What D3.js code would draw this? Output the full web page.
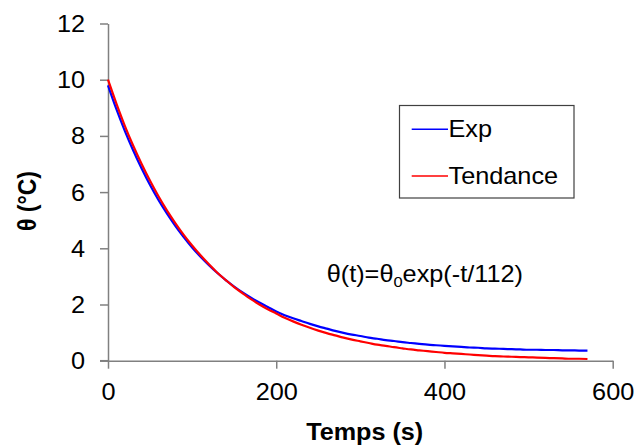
<!DOCTYPE html>
<html>
<head>
<meta charset="utf-8">
<script src="https://cdn.jsdelivr.net/npm/d3@7"></script>
<style>
  html, body { margin: 0; padding: 0; background: #fff; }
  svg { display: block; font-family: "Liberation Sans", Arial, sans-serif; }
</style>
</head>
<body>
<svg id="chart" width="634" height="447"></svg>
<script>
// Time (s)
const times = [0,10,20,30,40,50,60,70,80,90,100,110,120,130,140,150,160,170,180,190,200,
  210,220,230,240,250,260,270,280,290,300,310,320,330,340,350,360,370,380,390,400,
  410,420,430,440,450,460,470,480,490,500,510,520,530,540,550,560,570];
// Measured temperature (Exp)
const expValues = [9.80,8.95,8.18,7.48,6.84,6.25,5.72,5.24,4.80,4.40,4.03,3.70,3.40,3.12,2.87,2.64,2.43,2.24,2.07,1.91,1.75,
  1.62,1.51,1.41,1.31,1.22,1.14,1.06,0.99,0.93,0.88,0.82,0.78,0.73,0.70,0.66,0.63,0.60,0.57,0.55,0.53,
  0.51,0.49,0.47,0.46,0.44,0.43,0.42,0.41,0.40,0.39,0.39,0.38,0.38,0.37,0.37,0.36,0.36];
// Trend line (Tendance)
const trendValues = [10.0,9.15,8.36,7.65,7.00,6.40,5.85,5.35,4.90,4.48,4.10,3.75,3.43,3.13,2.87,2.62,2.40,2.19,2.00,1.83,1.68,
  1.53,1.40,1.28,1.17,1.07,0.98,0.90,0.82,0.75,0.69,0.63,0.57,0.53,0.48,0.44,0.40,0.37,0.34,0.31,0.28,
  0.26,0.24,0.22,0.20,0.18,0.16,0.15,0.14,0.13,0.12,0.11,0.10,0.09,0.08,0.07,0.07,0.06];
const xTicks = [0,200,400,600];
const yTicks = [0,2,4,6,8,10,12];
const seriesNames = ["Exp","Tendance"];
const seriesColors = ["#0000FF","#FF0000"];

const svg = d3.select("#chart");
const x = d3.scaleLinear().domain([0,600]).range([108,612.7]);
const y = d3.scaleLinear().domain([0,12]).range([360.7,23.5]);
const axisColor = "#808080";
const SX = 1.1;

// stretch text horizontally around its anchor point
function stretch(sel, sx) {
  sel.each(function () {
    const t = d3.select(this);
    const tx = +t.attr("x") || 0, ty = +t.attr("y") || 0;
    t.attr("transform", `translate(${tx},${ty}) scale(${sx},1)`).attr("x", 0).attr("y", 0);
  });
}

// Y axis
const gy = svg.append("g").attr("transform", `translate(${x(0)},0)`)
  .call(d3.axisLeft(y).tickValues(yTicks).tickSize(8).tickSizeOuter(0).tickPadding(0).tickFormat(d3.format("d")));
gy.select(".domain").attr("stroke", axisColor).attr("stroke-width", 1.5);
gy.selectAll(".tick line").attr("stroke", axisColor).attr("stroke-width", 1.5);
gy.selectAll(".tick text").attr("font-size", 23).attr("fill", "#000")
  .attr("font-family", "Liberation Sans, Arial, sans-serif")
  .attr("x", -23).attr("y", 0).attr("dy", "0.35em");
stretch(gy.selectAll(".tick text"), SX);

// X axis
const gx = svg.append("g").attr("transform", `translate(0,${y(0)})`)
  .call(d3.axisBottom(x).tickValues(xTicks).tickSize(8).tickSizeOuter(0).tickFormat(d3.format("d")));
gx.select(".domain").attr("stroke", axisColor).attr("stroke-width", 1.5);
gx.selectAll(".tick line").attr("stroke", axisColor).attr("stroke-width", 1.5);
gx.selectAll(".tick text").attr("font-size", 23).attr("fill", "#000")
  .attr("font-family", "Liberation Sans, Arial, sans-serif")
  .attr("x", 0).attr("y", 39.5).attr("dy", 0);
stretch(gx.selectAll(".tick text"), SX);

// extend the x axis line left to meet the y tick at 0
svg.append("line").attr("x1", x(0) - 8).attr("x2", x(0)).attr("y1", y(0)).attr("y2", y(0))
  .attr("stroke", axisColor).attr("stroke-width", 1.5);

// Lines
const line = d3.line().x((d,i) => x(times[i])).y(d => y(d)).curve(d3.curveMonotoneX);
[expValues, trendValues].forEach((vals, k) => {
  svg.append("path").datum(vals).attr("d", line)
    .attr("fill", "none").attr("stroke", seriesColors[k]).attr("stroke-width", 2.2);
});

// Axis titles
const xt = svg.append("text").attr("x", 364.7).attr("y", 440).attr("text-anchor", "middle")
  .attr("font-size", 24).attr("font-weight", "bold").text("Temps (s)");
stretch(xt, 1.05);
svg.append("text").attr("transform", "translate(36,201) rotate(-90) scale(1,1.1)").attr("text-anchor", "middle")
  .attr("font-size", 23).attr("font-weight", "bold").text("θ (°C)");

// Legend
const lg = svg.append("g");
lg.append("rect").attr("x", 399.5).attr("y", 105.5).attr("width", 174.5).attr("height", 92.5)
  .attr("fill", "#fff").attr("stroke", "#404040").attr("stroke-width", 1.2);
const legY = [129.3, 176];
seriesNames.forEach((n, k) => {
  lg.append("line").attr("x1", 411.7).attr("x2", 448).attr("y1", legY[k]).attr("y2", legY[k])
    .attr("stroke", seriesColors[k]).attr("stroke-width", 1.5);
  const t = lg.append("text").attr("x", 448.5).attr("y", legY[k] + 7.5).attr("font-size", 23).text(n);
  stretch(t, SX);
});

// Annotation
const ann = svg.append("text").attr("x", 326.7).attr("y", 281.5).attr("font-size", 23);
ann.append("tspan").text("θ(t)=θ");
ann.append("tspan").attr("font-size", 15).attr("dy", 5).text("0");
ann.append("tspan").attr("dy", -5).text("exp(-t/112)");
stretch(ann, SX);
</script>
</body>
</html>
